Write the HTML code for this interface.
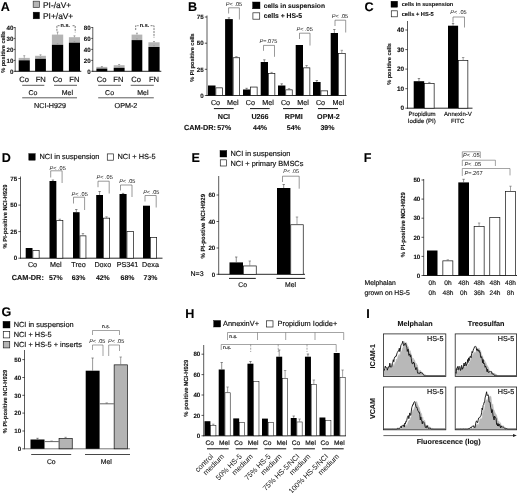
<!DOCTYPE html>
<html><head><meta charset="utf-8"><title>Figure</title>
<style>
html,body{margin:0;padding:0;background:#fff;}
body{width:520px;height:493px;overflow:hidden;}
svg{display:block;will-change:transform;filter:grayscale(1) blur(0.45px);font-family:"Liberation Sans",sans-serif;}
svg text{font-family:"Liberation Sans",sans-serif;text-rendering:geometricPrecision;}
</style></head><body>
<svg width="520" height="493" viewBox="0 0 520 493">
<rect width="520" height="493" fill="#fff"/>
<text x="0.80" y="10.91" text-anchor="start" style="font-size:12.6px;font-weight:bold;" fill="#000" stroke="#111" stroke-width="0.1">A</text>
<rect x="33.20" y="1.20" width="6.20" height="6.20" fill="#b4b4b4" stroke="#333" stroke-width="0.7"/>
<rect x="33.20" y="12.20" width="6.20" height="6.60" fill="#000" stroke="#000" stroke-width="0.5"/>
<text x="43.00" y="7.61" text-anchor="start" style="font-size:8.4px;" fill="#111" stroke="#111" stroke-width="0.17">PI-/aV+</text>
<text x="43.00" y="18.61" text-anchor="start" style="font-size:8.4px;" fill="#111" stroke="#111" stroke-width="0.17">PI+/aV+</text>
<text x="3.00" y="54.00" text-anchor="middle" style="font-size:5.6px;font-weight:bold;" fill="#111" stroke="#111" stroke-width="0.1" transform="rotate(-90 3.00 52.00)">% positive cells</text>
<line x1="15.20" y1="27.10" x2="15.20" y2="71.70" stroke="#000" stroke-width="0.65"/>
<line x1="13.60" y1="27.50" x2="15.20" y2="27.50" stroke="#000" stroke-width="0.65"/>
<text x="13.40" y="29.72" text-anchor="end" style="font-size:6.2px;font-weight:bold;" fill="#111" stroke="#111" stroke-width="0.1">40</text>
<line x1="13.60" y1="38.40" x2="15.20" y2="38.40" stroke="#000" stroke-width="0.65"/>
<text x="13.40" y="40.62" text-anchor="end" style="font-size:6.2px;font-weight:bold;" fill="#111" stroke="#111" stroke-width="0.1">30</text>
<line x1="13.60" y1="49.40" x2="15.20" y2="49.40" stroke="#000" stroke-width="0.65"/>
<text x="13.40" y="51.62" text-anchor="end" style="font-size:6.2px;font-weight:bold;" fill="#111" stroke="#111" stroke-width="0.1">20</text>
<line x1="13.60" y1="60.40" x2="15.20" y2="60.40" stroke="#000" stroke-width="0.65"/>
<text x="13.40" y="62.62" text-anchor="end" style="font-size:6.2px;font-weight:bold;" fill="#111" stroke="#111" stroke-width="0.1">10</text>
<line x1="13.60" y1="71.30" x2="15.20" y2="71.30" stroke="#000" stroke-width="0.65"/>
<text x="13.40" y="73.52" text-anchor="end" style="font-size:6.2px;font-weight:bold;" fill="#111" stroke="#111" stroke-width="0.1">0</text>
<line x1="14.80" y1="71.30" x2="81.30" y2="71.30" stroke="#111" stroke-width="0.9"/>
<rect x="18.70" y="57.90" width="11.10" height="2.40" fill="#b4b4b4"/>
<rect x="18.70" y="60.30" width="11.10" height="11.00" fill="#000"/>
<line x1="24.25" y1="55.70" x2="24.25" y2="57.90" stroke="#777" stroke-width="0.6"/>
<line x1="23.25" y1="55.70" x2="25.25" y2="55.70" stroke="#777" stroke-width="0.6"/>
<line x1="23.45" y1="59.10" x2="25.05" y2="59.10" stroke="#888" stroke-width="0.5"/>
<rect x="35.10" y="55.80" width="10.80" height="3.00" fill="#b4b4b4"/>
<rect x="35.10" y="58.80" width="10.80" height="12.50" fill="#000"/>
<line x1="40.50" y1="54.80" x2="40.50" y2="55.80" stroke="#777" stroke-width="0.6"/>
<line x1="39.50" y1="54.80" x2="41.50" y2="54.80" stroke="#777" stroke-width="0.6"/>
<line x1="39.70" y1="57.60" x2="41.30" y2="57.60" stroke="#888" stroke-width="0.5"/>
<rect x="51.90" y="34.60" width="11.30" height="10.20" fill="#b4b4b4"/>
<rect x="51.90" y="44.80" width="11.30" height="26.50" fill="#000"/>
<line x1="57.55" y1="32.00" x2="57.55" y2="34.60" stroke="#777" stroke-width="0.6"/>
<line x1="56.55" y1="32.00" x2="58.55" y2="32.00" stroke="#777" stroke-width="0.6"/>
<line x1="56.75" y1="43.60" x2="58.35" y2="43.60" stroke="#888" stroke-width="0.5"/>
<rect x="68.90" y="37.20" width="11.10" height="5.50" fill="#b4b4b4"/>
<rect x="68.90" y="42.70" width="11.10" height="28.60" fill="#000"/>
<line x1="74.45" y1="35.80" x2="74.45" y2="37.20" stroke="#777" stroke-width="0.6"/>
<line x1="73.45" y1="35.80" x2="75.45" y2="35.80" stroke="#777" stroke-width="0.6"/>
<line x1="73.65" y1="41.50" x2="75.25" y2="41.50" stroke="#888" stroke-width="0.5"/>
<g stroke="#444" stroke-width="0.7" fill="none"><path d="M56.9,30.8 V25.7 H59.6 M72.6,25.7 H75.2 V32.4" stroke-dasharray="2,0.9"/></g>
<text x="65.30" y="26.87" text-anchor="middle" style="font-size:5.5px;font-weight:bold;" fill="#222" stroke="#111" stroke-width="0.1">n.s.</text>
<text x="24.20" y="81.92" text-anchor="middle" style="font-size:7.6px;" fill="#111" stroke="#111" stroke-width="0.17">Co</text>
<text x="40.70" y="81.92" text-anchor="middle" style="font-size:7.6px;" fill="#111" stroke="#111" stroke-width="0.17">FN</text>
<text x="57.50" y="81.92" text-anchor="middle" style="font-size:7.6px;" fill="#111" stroke="#111" stroke-width="0.17">Co</text>
<text x="74.40" y="81.92" text-anchor="middle" style="font-size:7.6px;" fill="#111" stroke="#111" stroke-width="0.17">FN</text>
<line x1="22.20" y1="85.30" x2="44.30" y2="85.30" stroke="#333" stroke-width="0.8"/>
<line x1="54.00" y1="85.30" x2="77.00" y2="85.30" stroke="#333" stroke-width="0.8"/>
<text x="33.00" y="94.51" text-anchor="middle" style="font-size:7px;" fill="#111" stroke="#111" stroke-width="0.17">Co</text>
<text x="67.40" y="94.51" text-anchor="middle" style="font-size:7px;" fill="#111" stroke="#111" stroke-width="0.17">Mel</text>
<line x1="22.20" y1="97.80" x2="77.00" y2="97.80" stroke="#333" stroke-width="0.8"/>
<text x="50.00" y="107.58" text-anchor="middle" style="font-size:7.2px;" fill="#111" stroke="#111" stroke-width="0.17">NCI-H929</text>
<line x1="92.80" y1="27.10" x2="92.80" y2="71.70" stroke="#000" stroke-width="0.65"/>
<line x1="91.20" y1="27.50" x2="92.80" y2="27.50" stroke="#000" stroke-width="0.65"/>
<text x="90.60" y="29.72" text-anchor="end" style="font-size:6.2px;font-weight:bold;" fill="#111" stroke="#111" stroke-width="0.1">80</text>
<line x1="91.20" y1="38.40" x2="92.80" y2="38.40" stroke="#000" stroke-width="0.65"/>
<text x="90.60" y="40.62" text-anchor="end" style="font-size:6.2px;font-weight:bold;" fill="#111" stroke="#111" stroke-width="0.1">60</text>
<line x1="91.20" y1="49.40" x2="92.80" y2="49.40" stroke="#000" stroke-width="0.65"/>
<text x="90.60" y="51.62" text-anchor="end" style="font-size:6.2px;font-weight:bold;" fill="#111" stroke="#111" stroke-width="0.1">40</text>
<line x1="91.20" y1="60.40" x2="92.80" y2="60.40" stroke="#000" stroke-width="0.65"/>
<text x="90.60" y="62.62" text-anchor="end" style="font-size:6.2px;font-weight:bold;" fill="#111" stroke="#111" stroke-width="0.1">20</text>
<line x1="91.20" y1="71.30" x2="92.80" y2="71.30" stroke="#000" stroke-width="0.65"/>
<text x="90.60" y="73.52" text-anchor="end" style="font-size:6.2px;font-weight:bold;" fill="#111" stroke="#111" stroke-width="0.1">0</text>
<line x1="92.40" y1="71.30" x2="161.30" y2="71.30" stroke="#111" stroke-width="0.9"/>
<rect x="96.40" y="66.90" width="10.90" height="1.70" fill="#b4b4b4"/>
<rect x="96.40" y="68.60" width="10.90" height="2.70" fill="#000"/>
<line x1="101.85" y1="66.50" x2="101.85" y2="66.90" stroke="#777" stroke-width="0.6"/>
<line x1="100.85" y1="66.50" x2="102.85" y2="66.50" stroke="#777" stroke-width="0.6"/>
<line x1="101.05" y1="67.40" x2="102.65" y2="67.40" stroke="#888" stroke-width="0.5"/>
<rect x="113.70" y="65.20" width="10.90" height="2.60" fill="#b4b4b4"/>
<rect x="113.70" y="67.80" width="10.90" height="3.50" fill="#000"/>
<line x1="119.15" y1="64.50" x2="119.15" y2="65.20" stroke="#777" stroke-width="0.6"/>
<line x1="118.15" y1="64.50" x2="120.15" y2="64.50" stroke="#777" stroke-width="0.6"/>
<line x1="118.35" y1="66.60" x2="119.95" y2="66.60" stroke="#888" stroke-width="0.5"/>
<rect x="131.60" y="34.60" width="10.70" height="5.50" fill="#b4b4b4"/>
<rect x="131.60" y="40.10" width="10.70" height="31.20" fill="#000"/>
<line x1="136.95" y1="33.20" x2="136.95" y2="34.60" stroke="#777" stroke-width="0.6"/>
<line x1="135.95" y1="33.20" x2="137.95" y2="33.20" stroke="#777" stroke-width="0.6"/>
<line x1="136.15" y1="38.90" x2="137.75" y2="38.90" stroke="#888" stroke-width="0.5"/>
<rect x="148.40" y="42.30" width="11.20" height="4.70" fill="#b4b4b4"/>
<rect x="148.40" y="47.00" width="11.20" height="24.30" fill="#000"/>
<line x1="154.00" y1="41.50" x2="154.00" y2="42.30" stroke="#777" stroke-width="0.6"/>
<line x1="153.00" y1="41.50" x2="155.00" y2="41.50" stroke="#777" stroke-width="0.6"/>
<line x1="153.20" y1="45.80" x2="154.80" y2="45.80" stroke="#888" stroke-width="0.5"/>
<g stroke="#444" stroke-width="0.7" fill="none"><path d="M135.7,30 V25.7 H138.6 M150.6,25.7 H154 V37.6" stroke-dasharray="2,0.9"/></g>
<text x="144.50" y="26.87" text-anchor="middle" style="font-size:5.5px;font-weight:bold;" fill="#222" stroke="#111" stroke-width="0.1">n.s.</text>
<text x="101.60" y="81.92" text-anchor="middle" style="font-size:7.6px;" fill="#111" stroke="#111" stroke-width="0.17">Co</text>
<text x="118.40" y="81.92" text-anchor="middle" style="font-size:7.6px;" fill="#111" stroke="#111" stroke-width="0.17">FN</text>
<text x="136.20" y="81.92" text-anchor="middle" style="font-size:7.6px;" fill="#111" stroke="#111" stroke-width="0.17">Co</text>
<text x="154.00" y="81.92" text-anchor="middle" style="font-size:7.6px;" fill="#111" stroke="#111" stroke-width="0.17">FN</text>
<line x1="98.20" y1="85.30" x2="121.00" y2="85.30" stroke="#333" stroke-width="0.8"/>
<line x1="130.70" y1="85.30" x2="153.80" y2="85.30" stroke="#333" stroke-width="0.8"/>
<text x="109.60" y="94.51" text-anchor="middle" style="font-size:7px;" fill="#111" stroke="#111" stroke-width="0.17">Co</text>
<text x="142.80" y="94.51" text-anchor="middle" style="font-size:7px;" fill="#111" stroke="#111" stroke-width="0.17">Mel</text>
<line x1="98.20" y1="97.80" x2="153.80" y2="97.80" stroke="#333" stroke-width="0.8"/>
<text x="126.00" y="107.58" text-anchor="middle" style="font-size:7.2px;" fill="#111" stroke="#111" stroke-width="0.17">OPM-2</text>
<text x="188.00" y="10.91" text-anchor="start" style="font-size:12.6px;font-weight:bold;" fill="#000" stroke="#111" stroke-width="0.1">B</text>
<rect x="252.60" y="2.00" width="7.40" height="6.80" fill="#000" stroke="#000" stroke-width="0.4"/>
<rect x="252.90" y="12.80" width="6.80" height="6.40" fill="#fff" stroke="#222" stroke-width="0.7"/>
<text x="263.70" y="7.68" text-anchor="start" style="font-size:6.65px;font-weight:bold;" fill="#111" stroke="#111" stroke-width="0.1">cells in suspension</text>
<text x="263.70" y="18.43" text-anchor="start" style="font-size:6.8px;font-weight:bold;" fill="#111" stroke="#111" stroke-width="0.1">cells + HS-5</text>
<text x="192.00" y="59.50" text-anchor="middle" style="font-size:5.6px;font-weight:bold;" fill="#111" stroke="#111" stroke-width="0.1" transform="rotate(-90 192.00 57.50)">% PI positive cells</text>
<line x1="207.00" y1="15.50" x2="207.00" y2="95.90" stroke="#000" stroke-width="0.65"/>
<line x1="204.80" y1="17.00" x2="207.00" y2="17.00" stroke="#000" stroke-width="0.65"/>
<text x="203.60" y="19.22" text-anchor="end" style="font-size:6.2px;font-weight:bold;" fill="#111" stroke="#111" stroke-width="0.1">75</text>
<line x1="204.80" y1="43.20" x2="207.00" y2="43.20" stroke="#000" stroke-width="0.65"/>
<text x="203.60" y="45.42" text-anchor="end" style="font-size:6.2px;font-weight:bold;" fill="#111" stroke="#111" stroke-width="0.1">50</text>
<line x1="204.80" y1="69.30" x2="207.00" y2="69.30" stroke="#000" stroke-width="0.65"/>
<text x="203.60" y="71.52" text-anchor="end" style="font-size:6.2px;font-weight:bold;" fill="#111" stroke="#111" stroke-width="0.1">25</text>
<line x1="204.80" y1="95.50" x2="207.00" y2="95.50" stroke="#000" stroke-width="0.65"/>
<text x="203.60" y="97.72" text-anchor="end" style="font-size:6.2px;font-weight:bold;" fill="#111" stroke="#111" stroke-width="0.1">0</text>
<line x1="206.60" y1="95.50" x2="346.50" y2="95.50" stroke="#111" stroke-width="0.9"/>
<rect x="208.00" y="85.50" width="7.50" height="10.00" fill="#000"/>
<rect x="215.85" y="87.85" width="6.50" height="7.65" fill="#fff" stroke="#111" stroke-width="0.7"/>
<rect x="225.10" y="19.10" width="7.70" height="76.40" fill="#000"/>
<rect x="233.15" y="57.75" width="6.50" height="37.75" fill="#fff" stroke="#111" stroke-width="0.7"/>
<line x1="228.95" y1="17.80" x2="228.95" y2="19.10" stroke="#444" stroke-width="0.6"/>
<line x1="227.75" y1="17.80" x2="230.15" y2="17.80" stroke="#444" stroke-width="0.6"/>
<line x1="236.40" y1="56.60" x2="236.40" y2="57.40" stroke="#666" stroke-width="0.6"/>
<line x1="235.20" y1="56.60" x2="237.60" y2="56.60" stroke="#666" stroke-width="0.6"/>
<rect x="243.00" y="89.50" width="7.20" height="6.00" fill="#000"/>
<rect x="250.55" y="87.05" width="6.60" height="8.45" fill="#fff" stroke="#111" stroke-width="0.7"/>
<line x1="246.60" y1="88.30" x2="246.60" y2="89.50" stroke="#444" stroke-width="0.6"/>
<line x1="245.40" y1="88.30" x2="247.80" y2="88.30" stroke="#444" stroke-width="0.6"/>
<rect x="260.70" y="62.00" width="7.30" height="33.50" fill="#000"/>
<rect x="268.35" y="73.55" width="6.50" height="21.95" fill="#fff" stroke="#111" stroke-width="0.7"/>
<line x1="264.35" y1="59.80" x2="264.35" y2="62.00" stroke="#444" stroke-width="0.6"/>
<line x1="263.15" y1="59.80" x2="265.55" y2="59.80" stroke="#444" stroke-width="0.6"/>
<line x1="271.60" y1="72.40" x2="271.60" y2="73.20" stroke="#666" stroke-width="0.6"/>
<line x1="270.40" y1="72.40" x2="272.80" y2="72.40" stroke="#666" stroke-width="0.6"/>
<rect x="278.00" y="85.50" width="7.40" height="10.00" fill="#000"/>
<rect x="285.75" y="89.85" width="6.50" height="5.65" fill="#fff" stroke="#111" stroke-width="0.7"/>
<line x1="281.70" y1="83.80" x2="281.70" y2="85.50" stroke="#444" stroke-width="0.6"/>
<line x1="280.50" y1="83.80" x2="282.90" y2="83.80" stroke="#444" stroke-width="0.6"/>
<line x1="289.00" y1="88.60" x2="289.00" y2="89.50" stroke="#666" stroke-width="0.6"/>
<line x1="287.80" y1="88.60" x2="290.20" y2="88.60" stroke="#666" stroke-width="0.6"/>
<rect x="295.70" y="45.00" width="7.30" height="50.50" fill="#000"/>
<rect x="303.35" y="67.85" width="6.50" height="27.65" fill="#fff" stroke="#111" stroke-width="0.7"/>
<line x1="306.60" y1="65.50" x2="306.60" y2="67.50" stroke="#666" stroke-width="0.6"/>
<line x1="305.40" y1="65.50" x2="307.80" y2="65.50" stroke="#666" stroke-width="0.6"/>
<rect x="313.00" y="82.00" width="7.60" height="13.50" fill="#000"/>
<rect x="320.95" y="90.85" width="6.70" height="4.65" fill="#fff" stroke="#111" stroke-width="0.7"/>
<line x1="316.80" y1="80.50" x2="316.80" y2="82.00" stroke="#444" stroke-width="0.6"/>
<line x1="315.60" y1="80.50" x2="318.00" y2="80.50" stroke="#444" stroke-width="0.6"/>
<rect x="330.70" y="33.00" width="7.30" height="62.50" fill="#000"/>
<rect x="338.35" y="53.35" width="6.90" height="42.15" fill="#fff" stroke="#111" stroke-width="0.7"/>
<line x1="334.35" y1="29.50" x2="334.35" y2="33.00" stroke="#444" stroke-width="0.6"/>
<line x1="333.15" y1="29.50" x2="335.55" y2="29.50" stroke="#444" stroke-width="0.6"/>
<line x1="341.80" y1="50.30" x2="341.80" y2="53.00" stroke="#666" stroke-width="0.6"/>
<line x1="340.60" y1="50.30" x2="343.00" y2="50.30" stroke="#666" stroke-width="0.6"/>
<polyline points="228.60,13.50 228.60,7.80 239.40,7.80 239.40,19.50" fill="none" stroke="#555" stroke-width="0.6"/>
<text x="234.00" y="6.00" text-anchor="middle" style="font-size:5.6px" fill="#111"><tspan style="font-style:italic">P</tspan>&lt; .05</text>
<polyline points="263.50,50.80 263.50,45.40 274.50,45.40 274.50,56.80" fill="none" stroke="#555" stroke-width="0.6"/>
<text x="268.50" y="42.50" text-anchor="middle" style="font-size:5.6px" fill="#111"><tspan style="font-style:italic">P</tspan>=.075</text>
<polyline points="299.50,39.00 299.50,33.20 310.00,33.20 310.00,45.50" fill="none" stroke="#555" stroke-width="0.6"/>
<text x="304.60" y="31.20" text-anchor="middle" style="font-size:5.6px" fill="#111"><tspan style="font-style:italic">P</tspan>&lt; .05</text>
<polyline points="335.00,26.00 335.00,20.20 345.70,20.20 345.70,32.50" fill="none" stroke="#555" stroke-width="0.6"/>
<text x="340.00" y="18.00" text-anchor="middle" style="font-size:5.6px" fill="#111"><tspan style="font-style:italic">P</tspan>&lt; .05</text>
<text x="215.50" y="105.08" text-anchor="middle" style="font-size:7.2px;" fill="#111" stroke="#111" stroke-width="0.17">Co</text>
<text x="232.70" y="105.08" text-anchor="middle" style="font-size:7.2px;" fill="#111" stroke="#111" stroke-width="0.17">Mel</text>
<text x="250.30" y="105.08" text-anchor="middle" style="font-size:7.2px;" fill="#111" stroke="#111" stroke-width="0.17">Co</text>
<text x="268.00" y="105.08" text-anchor="middle" style="font-size:7.2px;" fill="#111" stroke="#111" stroke-width="0.17">Mel</text>
<text x="285.50" y="105.08" text-anchor="middle" style="font-size:7.2px;" fill="#111" stroke="#111" stroke-width="0.17">Co</text>
<text x="303.00" y="105.08" text-anchor="middle" style="font-size:7.2px;" fill="#111" stroke="#111" stroke-width="0.17">Mel</text>
<text x="320.50" y="105.08" text-anchor="middle" style="font-size:7.2px;" fill="#111" stroke="#111" stroke-width="0.17">Co</text>
<text x="338.30" y="105.08" text-anchor="middle" style="font-size:7.2px;" fill="#111" stroke="#111" stroke-width="0.17">Mel</text>
<line x1="213.90" y1="108.60" x2="233.70" y2="108.60" stroke="#111" stroke-width="1.0"/>
<line x1="250.00" y1="108.60" x2="269.70" y2="108.60" stroke="#111" stroke-width="1.0"/>
<line x1="283.00" y1="108.60" x2="303.00" y2="108.60" stroke="#111" stroke-width="1.0"/>
<line x1="318.00" y1="108.60" x2="338.00" y2="108.60" stroke="#111" stroke-width="1.0"/>
<text x="223.90" y="118.78" text-anchor="middle" style="font-size:7.2px;font-weight:bold;" fill="#111" stroke="#111" stroke-width="0.1">NCI</text>
<text x="260.00" y="118.78" text-anchor="middle" style="font-size:7.2px;font-weight:bold;" fill="#111" stroke="#111" stroke-width="0.1">U266</text>
<text x="293.80" y="118.78" text-anchor="middle" style="font-size:7.2px;font-weight:bold;" fill="#111" stroke="#111" stroke-width="0.1">RPMI</text>
<text x="328.50" y="118.78" text-anchor="middle" style="font-size:7.2px;font-weight:bold;" fill="#111" stroke="#111" stroke-width="0.1">OPM-2</text>
<text x="184.00" y="129.81" text-anchor="start" style="font-size:7.3px;font-weight:bold;" fill="#111" stroke="#111" stroke-width="0.1">CAM-DR:</text>
<text x="224.20" y="129.71" text-anchor="middle" style="font-size:7.0px;font-weight:bold;" fill="#111" stroke="#111" stroke-width="0.1">57%</text>
<text x="260.00" y="129.71" text-anchor="middle" style="font-size:7.0px;font-weight:bold;" fill="#111" stroke="#111" stroke-width="0.1">44%</text>
<text x="293.80" y="129.71" text-anchor="middle" style="font-size:7.0px;font-weight:bold;" fill="#111" stroke="#111" stroke-width="0.1">54%</text>
<text x="327.40" y="129.71" text-anchor="middle" style="font-size:7.0px;font-weight:bold;" fill="#111" stroke="#111" stroke-width="0.1">39%</text>
<text x="364.60" y="10.71" text-anchor="start" style="font-size:12.6px;font-weight:bold;" fill="#000" stroke="#111" stroke-width="0.1">C</text>
<rect x="391.00" y="1.20" width="6.60" height="6.00" fill="#000" stroke="#000" stroke-width="0.4"/>
<rect x="391.30" y="10.80" width="6.00" height="6.00" fill="#fff" stroke="#222" stroke-width="0.7"/>
<text x="401.70" y="6.20" text-anchor="start" style="font-size:5.6px;font-weight:bold;" fill="#111" stroke="#111" stroke-width="0.1">cells in suspension</text>
<text x="401.70" y="15.84" text-anchor="start" style="font-size:5.7px;font-weight:bold;" fill="#111" stroke="#111" stroke-width="0.1">cells + HS-5</text>
<text x="388.70" y="66.00" text-anchor="middle" style="font-size:5.6px;font-weight:bold;" fill="#111" stroke="#111" stroke-width="0.1" transform="rotate(-90 388.70 64.00)">% positive cells</text>
<line x1="407.50" y1="21.00" x2="407.50" y2="108.60" stroke="#000" stroke-width="0.65"/>
<line x1="405.30" y1="30.00" x2="407.50" y2="30.00" stroke="#000" stroke-width="0.65"/>
<text x="404.10" y="32.29" text-anchor="end" style="font-size:6.4px;font-weight:bold;" fill="#111" stroke="#111" stroke-width="0.1">40</text>
<line x1="405.30" y1="49.60" x2="407.50" y2="49.60" stroke="#000" stroke-width="0.65"/>
<text x="404.10" y="51.89" text-anchor="end" style="font-size:6.4px;font-weight:bold;" fill="#111" stroke="#111" stroke-width="0.1">30</text>
<line x1="405.30" y1="69.10" x2="407.50" y2="69.10" stroke="#000" stroke-width="0.65"/>
<text x="404.10" y="71.39" text-anchor="end" style="font-size:6.4px;font-weight:bold;" fill="#111" stroke="#111" stroke-width="0.1">20</text>
<line x1="405.30" y1="88.70" x2="407.50" y2="88.70" stroke="#000" stroke-width="0.65"/>
<text x="404.10" y="90.99" text-anchor="end" style="font-size:6.4px;font-weight:bold;" fill="#111" stroke="#111" stroke-width="0.1">10</text>
<line x1="405.30" y1="108.20" x2="407.50" y2="108.20" stroke="#000" stroke-width="0.65"/>
<text x="404.10" y="110.49" text-anchor="end" style="font-size:6.4px;font-weight:bold;" fill="#111" stroke="#111" stroke-width="0.1">0</text>
<line x1="407.10" y1="108.20" x2="472.50" y2="108.20" stroke="#111" stroke-width="0.9"/>
<rect x="413.70" y="81.20" width="10.50" height="27.00" fill="#000"/>
<rect x="424.55" y="83.55" width="9.60" height="24.65" fill="#fff" stroke="#111" stroke-width="0.7"/>
<line x1="418.95" y1="78.50" x2="418.95" y2="81.20" stroke="#444" stroke-width="0.6"/>
<line x1="417.75" y1="78.50" x2="420.15" y2="78.50" stroke="#444" stroke-width="0.6"/>
<line x1="429.35" y1="82.40" x2="429.35" y2="83.20" stroke="#666" stroke-width="0.6"/>
<line x1="428.15" y1="82.40" x2="430.55" y2="82.40" stroke="#666" stroke-width="0.6"/>
<rect x="448.00" y="25.70" width="10.10" height="82.50" fill="#000"/>
<rect x="458.45" y="60.35" width="9.40" height="47.85" fill="#fff" stroke="#111" stroke-width="0.7"/>
<line x1="453.05" y1="23.50" x2="453.05" y2="25.70" stroke="#444" stroke-width="0.6"/>
<line x1="451.85" y1="23.50" x2="454.25" y2="23.50" stroke="#444" stroke-width="0.6"/>
<line x1="463.15" y1="57.50" x2="463.15" y2="60.00" stroke="#666" stroke-width="0.6"/>
<line x1="461.95" y1="57.50" x2="464.35" y2="57.50" stroke="#666" stroke-width="0.6"/>
<polyline points="453.00,22.50 453.00,17.00 464.50,17.00 464.50,27.50" fill="none" stroke="#555" stroke-width="0.6"/>
<text x="458.50" y="14.00" text-anchor="middle" style="font-size:5.6px" fill="#111"><tspan style="font-style:italic">P</tspan>&lt; .05</text>
<text x="422.00" y="115.97" text-anchor="middle" style="font-size:6.05px;" fill="#111" stroke="#111" stroke-width="0.17">Propidium</text>
<text x="421.80" y="122.57" text-anchor="middle" style="font-size:6.05px;" fill="#111" stroke="#111" stroke-width="0.17">Iodide (PI)</text>
<text x="457.90" y="115.95" text-anchor="middle" style="font-size:6.0px;" fill="#111" stroke="#111" stroke-width="0.17">Annexin-V</text>
<text x="457.70" y="122.55" text-anchor="middle" style="font-size:6.0px;" fill="#111" stroke="#111" stroke-width="0.17">FITC</text>
<text x="1.80" y="162.01" text-anchor="start" style="font-size:12.6px;font-weight:bold;" fill="#000" stroke="#111" stroke-width="0.1">D</text>
<rect x="28.80" y="153.60" width="6.40" height="6.60" fill="#000" stroke="#000" stroke-width="0.4"/>
<text x="39.50" y="159.45" text-anchor="start" style="font-size:7.4px;" fill="#111" stroke="#111" stroke-width="0.17">NCI in suspension</text>
<rect x="107.30" y="153.90" width="6.30" height="6.30" fill="#fff" stroke="#222" stroke-width="0.7"/>
<text x="117.50" y="159.45" text-anchor="start" style="font-size:7.4px;" fill="#111" stroke="#111" stroke-width="0.17">NCI + HS-5</text>
<text x="4.60" y="218.59" text-anchor="middle" style="font-size:5.85px;font-weight:bold;" fill="#111" stroke="#111" stroke-width="0.1" transform="rotate(-90 4.60 216.50)">% PI-positive NCI-H929</text>
<line x1="20.50" y1="176.50" x2="20.50" y2="258.60" stroke="#000" stroke-width="0.65"/>
<line x1="18.30" y1="178.50" x2="20.50" y2="178.50" stroke="#000" stroke-width="0.65"/>
<text x="17.10" y="180.72" text-anchor="end" style="font-size:6.2px;font-weight:bold;" fill="#111" stroke="#111" stroke-width="0.1">75</text>
<line x1="18.30" y1="205.10" x2="20.50" y2="205.10" stroke="#000" stroke-width="0.65"/>
<text x="17.10" y="207.32" text-anchor="end" style="font-size:6.2px;font-weight:bold;" fill="#111" stroke="#111" stroke-width="0.1">50</text>
<line x1="18.30" y1="231.60" x2="20.50" y2="231.60" stroke="#000" stroke-width="0.65"/>
<text x="17.10" y="233.82" text-anchor="end" style="font-size:6.2px;font-weight:bold;" fill="#111" stroke="#111" stroke-width="0.1">25</text>
<line x1="18.30" y1="258.20" x2="20.50" y2="258.20" stroke="#000" stroke-width="0.65"/>
<text x="17.10" y="260.42" text-anchor="end" style="font-size:6.2px;font-weight:bold;" fill="#111" stroke="#111" stroke-width="0.1">0</text>
<line x1="20.10" y1="258.20" x2="162.50" y2="258.20" stroke="#111" stroke-width="0.9"/>
<rect x="25.70" y="248.00" width="6.80" height="10.20" fill="#000"/>
<rect x="32.85" y="250.35" width="6.30" height="7.85" fill="#fff" stroke="#111" stroke-width="0.7"/>
<rect x="49.50" y="181.00" width="6.80" height="77.20" fill="#000"/>
<rect x="56.65" y="220.35" width="6.20" height="37.85" fill="#fff" stroke="#111" stroke-width="0.7"/>
<line x1="52.90" y1="180.00" x2="52.90" y2="181.00" stroke="#444" stroke-width="0.6"/>
<line x1="51.70" y1="180.00" x2="54.10" y2="180.00" stroke="#444" stroke-width="0.6"/>
<line x1="59.75" y1="219.20" x2="59.75" y2="220.00" stroke="#666" stroke-width="0.6"/>
<line x1="58.55" y1="219.20" x2="60.95" y2="219.20" stroke="#666" stroke-width="0.6"/>
<rect x="73.00" y="212.20" width="6.60" height="46.00" fill="#000"/>
<rect x="79.95" y="235.85" width="6.00" height="22.35" fill="#fff" stroke="#111" stroke-width="0.7"/>
<line x1="76.30" y1="209.50" x2="76.30" y2="212.20" stroke="#444" stroke-width="0.6"/>
<line x1="75.10" y1="209.50" x2="77.50" y2="209.50" stroke="#444" stroke-width="0.6"/>
<line x1="82.95" y1="233.50" x2="82.95" y2="235.50" stroke="#666" stroke-width="0.6"/>
<line x1="81.75" y1="233.50" x2="84.15" y2="233.50" stroke="#666" stroke-width="0.6"/>
<rect x="96.20" y="195.00" width="6.80" height="63.20" fill="#000"/>
<rect x="103.35" y="218.15" width="6.30" height="40.05" fill="#fff" stroke="#111" stroke-width="0.7"/>
<line x1="99.60" y1="191.50" x2="99.60" y2="195.00" stroke="#444" stroke-width="0.6"/>
<line x1="98.40" y1="191.50" x2="100.80" y2="191.50" stroke="#444" stroke-width="0.6"/>
<line x1="106.50" y1="216.80" x2="106.50" y2="217.80" stroke="#666" stroke-width="0.6"/>
<line x1="105.30" y1="216.80" x2="107.70" y2="216.80" stroke="#666" stroke-width="0.6"/>
<rect x="119.50" y="194.00" width="7.10" height="64.20" fill="#000"/>
<rect x="126.95" y="231.55" width="6.40" height="26.65" fill="#fff" stroke="#111" stroke-width="0.7"/>
<line x1="123.05" y1="193.40" x2="123.05" y2="194.00" stroke="#444" stroke-width="0.6"/>
<line x1="121.85" y1="193.40" x2="124.25" y2="193.40" stroke="#444" stroke-width="0.6"/>
<rect x="143.00" y="205.70" width="7.00" height="52.50" fill="#000"/>
<rect x="150.35" y="237.35" width="6.30" height="20.85" fill="#fff" stroke="#111" stroke-width="0.7"/>
<polyline points="50.70,177.50 50.70,170.80 62.10,170.80 62.10,183.00" fill="none" stroke="#555" stroke-width="0.6"/>
<text x="57.60" y="169.50" text-anchor="middle" style="font-size:5.6px" fill="#111"><tspan style="font-style:italic">P</tspan>&lt; .05</text>
<polyline points="73.50,203.50 73.50,197.20 84.60,197.20 84.60,210.00" fill="none" stroke="#555" stroke-width="0.6"/>
<text x="79.60" y="195.50" text-anchor="middle" style="font-size:5.6px" fill="#111"><tspan style="font-style:italic">P</tspan>&lt; .05</text>
<polyline points="98.00,187.20 98.00,181.20 109.20,181.20 109.20,193.50" fill="none" stroke="#555" stroke-width="0.6"/>
<text x="104.60" y="179.40" text-anchor="middle" style="font-size:5.6px" fill="#111"><tspan style="font-style:italic">P</tspan>&lt; .05</text>
<polyline points="120.50,190.50 120.50,185.00 132.00,185.00 132.00,197.00" fill="none" stroke="#555" stroke-width="0.6"/>
<text x="127.30" y="183.20" text-anchor="middle" style="font-size:5.6px" fill="#111"><tspan style="font-style:italic">P</tspan>&lt; .05</text>
<polyline points="145.00,201.50 145.00,195.50 156.20,195.50 156.20,207.50" fill="none" stroke="#555" stroke-width="0.6"/>
<text x="151.30" y="193.60" text-anchor="middle" style="font-size:5.6px" fill="#111"><tspan style="font-style:italic">P</tspan>&lt; .05</text>
<text x="32.50" y="267.38" text-anchor="middle" style="font-size:7.2px;" fill="#111" stroke="#111" stroke-width="0.17">Co</text>
<text x="55.80" y="267.38" text-anchor="middle" style="font-size:7.2px;" fill="#111" stroke="#111" stroke-width="0.17">Mel</text>
<text x="78.60" y="267.38" text-anchor="middle" style="font-size:7.2px;" fill="#111" stroke="#111" stroke-width="0.17">Treo</text>
<text x="102.80" y="267.38" text-anchor="middle" style="font-size:7.2px;" fill="#111" stroke="#111" stroke-width="0.17">Doxo</text>
<text x="127.50" y="267.38" text-anchor="middle" style="font-size:7.2px;" fill="#111" stroke="#111" stroke-width="0.17">PS341</text>
<text x="150.50" y="267.38" text-anchor="middle" style="font-size:7.2px;" fill="#111" stroke="#111" stroke-width="0.17">Dexa</text>
<text x="11.80" y="279.71" text-anchor="start" style="font-size:7.3px;font-weight:bold;" fill="#111" stroke="#111" stroke-width="0.1">CAM-DR:</text>
<text x="55.80" y="279.57" text-anchor="middle" style="font-size:6.9px;font-weight:bold;" fill="#111" stroke="#111" stroke-width="0.1">57%</text>
<text x="78.60" y="279.57" text-anchor="middle" style="font-size:6.9px;font-weight:bold;" fill="#111" stroke="#111" stroke-width="0.1">63%</text>
<text x="102.80" y="279.57" text-anchor="middle" style="font-size:6.9px;font-weight:bold;" fill="#111" stroke="#111" stroke-width="0.1">42%</text>
<text x="127.50" y="279.57" text-anchor="middle" style="font-size:6.9px;font-weight:bold;" fill="#111" stroke="#111" stroke-width="0.1">68%</text>
<text x="150.50" y="279.57" text-anchor="middle" style="font-size:6.9px;font-weight:bold;" fill="#111" stroke="#111" stroke-width="0.1">73%</text>
<text x="191.60" y="162.11" text-anchor="start" style="font-size:12.6px;font-weight:bold;" fill="#000" stroke="#111" stroke-width="0.1">E</text>
<rect x="220.00" y="150.50" width="6.80" height="6.50" fill="#000" stroke="#000" stroke-width="0.4"/>
<rect x="220.30" y="159.80" width="6.20" height="6.20" fill="#fff" stroke="#222" stroke-width="0.7"/>
<text x="230.50" y="156.45" text-anchor="start" style="font-size:7.4px;" fill="#111" stroke="#111" stroke-width="0.17">NCI in suspension</text>
<text x="230.50" y="165.75" text-anchor="start" style="font-size:7.4px;" fill="#111" stroke="#111" stroke-width="0.17">NCI + primary BMSCs</text>
<text x="203.30" y="228.37" text-anchor="middle" style="font-size:6.05px;font-weight:bold;" fill="#111" stroke="#111" stroke-width="0.1" transform="rotate(-90 203.30 226.20)">% PI-postive NCI-H929</text>
<line x1="218.70" y1="176.00" x2="218.70" y2="274.70" stroke="#000" stroke-width="0.65"/>
<line x1="216.50" y1="195.00" x2="218.70" y2="195.00" stroke="#000" stroke-width="0.65"/>
<text x="215.30" y="197.22" text-anchor="end" style="font-size:6.2px;font-weight:bold;" fill="#111" stroke="#111" stroke-width="0.1">60</text>
<line x1="216.50" y1="221.50" x2="218.70" y2="221.50" stroke="#000" stroke-width="0.65"/>
<text x="215.30" y="223.72" text-anchor="end" style="font-size:6.2px;font-weight:bold;" fill="#111" stroke="#111" stroke-width="0.1">40</text>
<line x1="216.50" y1="248.00" x2="218.70" y2="248.00" stroke="#000" stroke-width="0.65"/>
<text x="215.30" y="250.22" text-anchor="end" style="font-size:6.2px;font-weight:bold;" fill="#111" stroke="#111" stroke-width="0.1">20</text>
<line x1="216.50" y1="274.30" x2="218.70" y2="274.30" stroke="#000" stroke-width="0.65"/>
<text x="215.30" y="276.52" text-anchor="end" style="font-size:6.2px;font-weight:bold;" fill="#111" stroke="#111" stroke-width="0.1">0</text>
<line x1="218.30" y1="274.30" x2="305.00" y2="274.30" stroke="#111" stroke-width="0.9"/>
<rect x="229.50" y="262.40" width="13.50" height="11.90" fill="#000"/>
<rect x="243.35" y="265.95" width="12.90" height="8.35" fill="#fff" stroke="#111" stroke-width="0.7"/>
<line x1="236.25" y1="257.00" x2="236.25" y2="262.40" stroke="#444" stroke-width="0.6"/>
<line x1="235.05" y1="257.00" x2="237.45" y2="257.00" stroke="#444" stroke-width="0.6"/>
<line x1="249.80" y1="261.00" x2="249.80" y2="265.60" stroke="#666" stroke-width="0.6"/>
<line x1="248.60" y1="261.00" x2="251.00" y2="261.00" stroke="#666" stroke-width="0.6"/>
<rect x="277.00" y="188.00" width="13.40" height="86.30" fill="#000"/>
<rect x="290.75" y="224.75" width="12.50" height="49.55" fill="#fff" stroke="#111" stroke-width="0.7"/>
<line x1="283.70" y1="184.50" x2="283.70" y2="188.00" stroke="#444" stroke-width="0.6"/>
<line x1="282.50" y1="184.50" x2="284.90" y2="184.50" stroke="#444" stroke-width="0.6"/>
<line x1="297.00" y1="217.00" x2="297.00" y2="224.40" stroke="#666" stroke-width="0.6"/>
<line x1="295.80" y1="217.00" x2="298.20" y2="217.00" stroke="#666" stroke-width="0.6"/>
<polyline points="282.50,182.00 282.50,176.20 299.20,176.20 299.20,188.70" fill="none" stroke="#555" stroke-width="0.6"/>
<text x="291.20" y="173.43" text-anchor="middle" style="font-size:5.4px" fill="#111"><tspan style="font-style:italic">P</tspan>&lt; .05</text>
<text x="190.50" y="276.31" text-anchor="start" style="font-size:7px;" fill="#111" stroke="#111" stroke-width="0.17">N=3</text>
<line x1="229.00" y1="278.40" x2="255.80" y2="278.40" stroke="#000" stroke-width="0.9"/>
<line x1="276.50" y1="278.40" x2="305.20" y2="278.40" stroke="#000" stroke-width="0.9"/>
<text x="242.70" y="287.03" text-anchor="middle" style="font-size:6.8px;" fill="#111" stroke="#111" stroke-width="0.17">Co</text>
<text x="290.50" y="287.03" text-anchor="middle" style="font-size:6.8px;" fill="#111" stroke="#111" stroke-width="0.17">Mel</text>
<text x="363.80" y="161.91" text-anchor="start" style="font-size:12.6px;font-weight:bold;" fill="#000" stroke="#111" stroke-width="0.1">F</text>
<text x="403.20" y="226.83" text-anchor="middle" style="font-size:5.95px;font-weight:bold;" fill="#111" stroke="#111" stroke-width="0.1" transform="rotate(-90 403.20 224.70)">% PI-positive NCI-H929</text>
<line x1="423.70" y1="179.00" x2="423.70" y2="275.90" stroke="#000" stroke-width="0.65"/>
<line x1="421.50" y1="180.00" x2="423.70" y2="180.00" stroke="#000" stroke-width="0.65"/>
<text x="420.30" y="182.22" text-anchor="end" style="font-size:6.2px;font-weight:bold;" fill="#111" stroke="#111" stroke-width="0.1">50</text>
<line x1="421.50" y1="199.10" x2="423.70" y2="199.10" stroke="#000" stroke-width="0.65"/>
<text x="420.30" y="201.32" text-anchor="end" style="font-size:6.2px;font-weight:bold;" fill="#111" stroke="#111" stroke-width="0.1">40</text>
<line x1="421.50" y1="218.20" x2="423.70" y2="218.20" stroke="#000" stroke-width="0.65"/>
<text x="420.30" y="220.42" text-anchor="end" style="font-size:6.2px;font-weight:bold;" fill="#111" stroke="#111" stroke-width="0.1">30</text>
<line x1="421.50" y1="237.30" x2="423.70" y2="237.30" stroke="#000" stroke-width="0.65"/>
<text x="420.30" y="239.52" text-anchor="end" style="font-size:6.2px;font-weight:bold;" fill="#111" stroke="#111" stroke-width="0.1">20</text>
<line x1="421.50" y1="256.40" x2="423.70" y2="256.40" stroke="#000" stroke-width="0.65"/>
<text x="420.30" y="258.62" text-anchor="end" style="font-size:6.2px;font-weight:bold;" fill="#111" stroke="#111" stroke-width="0.1">10</text>
<line x1="421.50" y1="275.50" x2="423.70" y2="275.50" stroke="#000" stroke-width="0.65"/>
<text x="420.30" y="277.72" text-anchor="end" style="font-size:6.2px;font-weight:bold;" fill="#111" stroke="#111" stroke-width="0.1">0</text>
<line x1="423.30" y1="275.50" x2="517.00" y2="275.50" stroke="#111" stroke-width="0.9"/>
<rect x="427.00" y="250.50" width="10.50" height="25.00" fill="#000"/>
<rect x="442.85" y="260.85" width="10.00" height="14.65" fill="#fff" stroke="#111" stroke-width="0.7"/>
<line x1="447.80" y1="259.80" x2="447.80" y2="260.50" stroke="#666" stroke-width="0.6"/>
<line x1="446.60" y1="259.80" x2="449.00" y2="259.80" stroke="#666" stroke-width="0.6"/>
<rect x="458.30" y="182.40" width="10.70" height="93.10" fill="#000"/>
<line x1="463.60" y1="179.30" x2="463.60" y2="182.40" stroke="#444" stroke-width="0.6"/>
<line x1="462.40" y1="179.30" x2="464.80" y2="179.30" stroke="#444" stroke-width="0.6"/>
<rect x="474.15" y="226.55" width="10.00" height="48.95" fill="#fff" stroke="#111" stroke-width="0.7"/>
<line x1="479.10" y1="223.00" x2="479.10" y2="226.20" stroke="#666" stroke-width="0.6"/>
<line x1="477.90" y1="223.00" x2="480.30" y2="223.00" stroke="#666" stroke-width="0.6"/>
<rect x="489.75" y="217.35" width="10.10" height="58.15" fill="#fff" stroke="#111" stroke-width="0.7"/>
<rect x="505.55" y="191.55" width="10.00" height="83.95" fill="#fff" stroke="#111" stroke-width="0.7"/>
<line x1="510.50" y1="186.20" x2="510.50" y2="191.20" stroke="#666" stroke-width="0.6"/>
<line x1="509.30" y1="186.20" x2="511.70" y2="186.20" stroke="#666" stroke-width="0.6"/>
<polyline points="462.30,158.00 462.30,151.80 480.30,151.80 480.30,158.00" fill="none" stroke="#666" stroke-width="0.6"/>
<text x="471.40" y="157.04" text-anchor="middle" style="font-size:5.7px" fill="#111"><tspan style="font-style:italic">P</tspan>&lt; .05</text>
<polyline points="462.30,166.00 462.30,160.20 495.40,160.20 495.40,166.00" fill="none" stroke="#666" stroke-width="0.6"/>
<text x="472.80" y="165.64" text-anchor="middle" style="font-size:5.7px" fill="#111"><tspan style="font-style:italic">P</tspan>&lt; .05</text>
<polyline points="462.30,176.00 462.30,168.50 510.00,168.50 510.00,175.40" fill="none" stroke="#666" stroke-width="0.6"/>
<text x="473.50" y="174.64" text-anchor="middle" style="font-size:5.7px" fill="#111"><tspan style="font-style:italic">P</tspan>=.267</text>
<text x="364.50" y="285.43" text-anchor="start" style="font-size:6.8px;" fill="#111" stroke="#111" stroke-width="0.17">Melphalan</text>
<text x="364.50" y="294.93" text-anchor="start" style="font-size:6.8px;" fill="#111" stroke="#111" stroke-width="0.17">grown on HS-5</text>
<text x="432.20" y="285.36" text-anchor="middle" style="font-size:6.6px;" fill="#111" stroke="#111" stroke-width="0.17">0h</text>
<text x="432.20" y="294.86" text-anchor="middle" style="font-size:6.6px;" fill="#111" stroke="#111" stroke-width="0.17">0h</text>
<text x="448.00" y="285.36" text-anchor="middle" style="font-size:6.6px;" fill="#111" stroke="#111" stroke-width="0.17">0h</text>
<text x="448.00" y="294.86" text-anchor="middle" style="font-size:6.6px;" fill="#111" stroke="#111" stroke-width="0.17">48h</text>
<text x="463.70" y="285.36" text-anchor="middle" style="font-size:6.6px;" fill="#111" stroke="#111" stroke-width="0.17">48h</text>
<text x="463.70" y="294.86" text-anchor="middle" style="font-size:6.6px;" fill="#111" stroke="#111" stroke-width="0.17">0h</text>
<text x="479.20" y="285.36" text-anchor="middle" style="font-size:6.6px;" fill="#111" stroke="#111" stroke-width="0.17">48h</text>
<text x="479.20" y="294.86" text-anchor="middle" style="font-size:6.6px;" fill="#111" stroke="#111" stroke-width="0.17">36h</text>
<text x="495.00" y="285.36" text-anchor="middle" style="font-size:6.6px;" fill="#111" stroke="#111" stroke-width="0.17">48h</text>
<text x="495.00" y="294.86" text-anchor="middle" style="font-size:6.6px;" fill="#111" stroke="#111" stroke-width="0.17">24h</text>
<text x="510.50" y="285.36" text-anchor="middle" style="font-size:6.6px;" fill="#111" stroke="#111" stroke-width="0.17">48h</text>
<text x="510.50" y="294.86" text-anchor="middle" style="font-size:6.6px;" fill="#111" stroke="#111" stroke-width="0.17">8h</text>
<text x="1.40" y="315.91" text-anchor="start" style="font-size:12.6px;font-weight:bold;" fill="#000" stroke="#111" stroke-width="0.1">G</text>
<rect x="3.00" y="321.30" width="7.00" height="6.70" fill="#000" stroke="#000" stroke-width="0.4"/>
<rect x="3.30" y="331.50" width="6.40" height="6.40" fill="#fff" stroke="#222" stroke-width="0.7"/>
<rect x="3.30" y="341.50" width="6.40" height="6.40" fill="#b4b4b4" stroke="#222" stroke-width="0.7"/>
<text x="13.70" y="327.25" text-anchor="start" style="font-size:7.4px;" fill="#111" stroke="#111" stroke-width="0.17">NCI in suspension</text>
<text x="13.70" y="337.25" text-anchor="start" style="font-size:7.4px;" fill="#111" stroke="#111" stroke-width="0.17">NCI + HS-5</text>
<text x="13.70" y="347.25" text-anchor="start" style="font-size:7.4px;" fill="#111" stroke="#111" stroke-width="0.17">NCI + HS-5 + inserts</text>
<text x="4.80" y="403.68" text-anchor="middle" style="font-size:5.8px;font-weight:bold;" fill="#111" stroke="#111" stroke-width="0.1" transform="rotate(-90 4.80 401.60)">% PI-positive NCI-H929</text>
<line x1="24.50" y1="350.00" x2="24.50" y2="449.20" stroke="#000" stroke-width="0.65"/>
<line x1="22.30" y1="359.60" x2="24.50" y2="359.60" stroke="#000" stroke-width="0.65"/>
<text x="21.10" y="361.82" text-anchor="end" style="font-size:6.2px;font-weight:bold;" fill="#111" stroke="#111" stroke-width="0.1">50</text>
<line x1="22.30" y1="377.50" x2="24.50" y2="377.50" stroke="#000" stroke-width="0.65"/>
<text x="21.10" y="379.72" text-anchor="end" style="font-size:6.2px;font-weight:bold;" fill="#111" stroke="#111" stroke-width="0.1">40</text>
<line x1="22.30" y1="395.30" x2="24.50" y2="395.30" stroke="#000" stroke-width="0.65"/>
<text x="21.10" y="397.52" text-anchor="end" style="font-size:6.2px;font-weight:bold;" fill="#111" stroke="#111" stroke-width="0.1">30</text>
<line x1="22.30" y1="413.10" x2="24.50" y2="413.10" stroke="#000" stroke-width="0.65"/>
<text x="21.10" y="415.32" text-anchor="end" style="font-size:6.2px;font-weight:bold;" fill="#111" stroke="#111" stroke-width="0.1">20</text>
<line x1="22.30" y1="431.00" x2="24.50" y2="431.00" stroke="#000" stroke-width="0.65"/>
<text x="21.10" y="433.22" text-anchor="end" style="font-size:6.2px;font-weight:bold;" fill="#111" stroke="#111" stroke-width="0.1">10</text>
<line x1="22.30" y1="448.80" x2="24.50" y2="448.80" stroke="#000" stroke-width="0.65"/>
<text x="21.10" y="451.02" text-anchor="end" style="font-size:6.2px;font-weight:bold;" fill="#111" stroke="#111" stroke-width="0.1">0</text>
<line x1="24.10" y1="448.80" x2="130.00" y2="448.80" stroke="#555" stroke-width="0.8"/>
<rect x="30.50" y="439.50" width="14.00" height="9.30" fill="#000"/>
<line x1="37.50" y1="438.30" x2="37.50" y2="439.50" stroke="#444" stroke-width="0.6"/>
<line x1="36.30" y1="438.30" x2="38.70" y2="438.30" stroke="#444" stroke-width="0.6"/>
<line x1="44.50" y1="441.60" x2="58.70" y2="441.60" stroke="#555" stroke-width="0.9"/>
<line x1="51.60" y1="441.00" x2="51.60" y2="441.50" stroke="#666" stroke-width="0.6"/>
<line x1="50.40" y1="441.00" x2="52.80" y2="441.00" stroke="#666" stroke-width="0.6"/>
<rect x="59.05" y="438.55" width="13.20" height="10.25" fill="#b4b4b4" stroke="#111" stroke-width="0.7"/>
<line x1="65.60" y1="437.30" x2="65.60" y2="438.20" stroke="#666" stroke-width="0.6"/>
<line x1="64.40" y1="437.30" x2="66.80" y2="437.30" stroke="#666" stroke-width="0.6"/>
<rect x="85.70" y="370.70" width="13.90" height="78.10" fill="#000"/>
<line x1="92.60" y1="358.00" x2="92.60" y2="370.70" stroke="#555" stroke-width="0.6"/>
<line x1="91.40" y1="358.00" x2="93.80" y2="358.00" stroke="#555" stroke-width="0.6"/>
<line x1="99.60" y1="403.80" x2="113.80" y2="403.80" stroke="#555" stroke-width="0.9"/>
<line x1="106.70" y1="402.90" x2="106.70" y2="403.70" stroke="#666" stroke-width="0.6"/>
<line x1="105.50" y1="402.90" x2="107.90" y2="402.90" stroke="#666" stroke-width="0.6"/>
<rect x="114.15" y="364.85" width="13.20" height="83.95" fill="#b4b4b4" stroke="#111" stroke-width="0.7"/>
<line x1="120.70" y1="357.00" x2="120.70" y2="364.50" stroke="#666" stroke-width="0.6"/>
<line x1="119.50" y1="357.00" x2="121.90" y2="357.00" stroke="#666" stroke-width="0.6"/>
<polyline points="92.50,335.00 92.50,330.50 119.50,330.50 119.50,335.00" fill="none" stroke="#666" stroke-width="0.6"/>
<text x="106.00" y="327.79" text-anchor="middle" style="font-size:5px;" fill="#333" stroke="#111" stroke-width="0.17">n.s.</text>
<polyline points="92.50,350.00 92.50,345.00 103.00,345.00 103.00,356.00" fill="none" stroke="#666" stroke-width="0.6"/>
<text x="97.30" y="342.70" text-anchor="middle" style="font-size:5.6px" fill="#111"><tspan style="font-style:italic">P</tspan>&lt; .05</text>
<polyline points="108.70,356.00 108.70,345.00 119.50,345.00 119.50,351.00" fill="none" stroke="#666" stroke-width="0.6"/>
<text x="116.20" y="342.70" text-anchor="middle" style="font-size:5.6px" fill="#111"><tspan style="font-style:italic">P</tspan>&lt; .05</text>
<line x1="31.20" y1="454.50" x2="71.20" y2="454.50" stroke="#333" stroke-width="0.9"/>
<line x1="85.00" y1="454.50" x2="130.00" y2="454.50" stroke="#333" stroke-width="0.9"/>
<text x="51.30" y="464.43" text-anchor="middle" style="font-size:6.8px;" fill="#111" stroke="#111" stroke-width="0.17">Co</text>
<text x="106.30" y="464.43" text-anchor="middle" style="font-size:6.8px;" fill="#111" stroke="#111" stroke-width="0.17">Mel</text>
<text x="185.20" y="317.51" text-anchor="start" style="font-size:12.6px;font-weight:bold;" fill="#000" stroke="#111" stroke-width="0.1">H</text>
<rect x="213.70" y="320.50" width="7.00" height="6.50" fill="#000" stroke="#000" stroke-width="0.4"/>
<text x="223.00" y="326.45" text-anchor="start" style="font-size:7.4px;" fill="#111" stroke="#111" stroke-width="0.17">AnnexinV+</text>
<rect x="266.50" y="320.80" width="6.50" height="6.20" fill="#fff" stroke="#222" stroke-width="0.7"/>
<text x="277.50" y="326.45" text-anchor="start" style="font-size:7.4px;" fill="#111" stroke="#111" stroke-width="0.17">Propidium Iodide+</text>
<text x="186.20" y="390.31" text-anchor="middle" style="font-size:5.9px;font-weight:bold;" fill="#111" stroke="#111" stroke-width="0.1" transform="rotate(-90 186.20 388.20)">% positive NCI-H929</text>
<line x1="203.70" y1="345.00" x2="203.70" y2="436.20" stroke="#000" stroke-width="0.65"/>
<line x1="201.50" y1="354.20" x2="203.70" y2="354.20" stroke="#000" stroke-width="0.65"/>
<text x="200.30" y="356.42" text-anchor="end" style="font-size:6.2px;font-weight:bold;" fill="#111" stroke="#111" stroke-width="0.1">80</text>
<line x1="201.50" y1="374.60" x2="203.70" y2="374.60" stroke="#000" stroke-width="0.65"/>
<text x="200.30" y="376.82" text-anchor="end" style="font-size:6.2px;font-weight:bold;" fill="#111" stroke="#111" stroke-width="0.1">60</text>
<line x1="201.50" y1="395.00" x2="203.70" y2="395.00" stroke="#000" stroke-width="0.65"/>
<text x="200.30" y="397.22" text-anchor="end" style="font-size:6.2px;font-weight:bold;" fill="#111" stroke="#111" stroke-width="0.1">40</text>
<line x1="201.50" y1="415.40" x2="203.70" y2="415.40" stroke="#000" stroke-width="0.65"/>
<text x="200.30" y="417.62" text-anchor="end" style="font-size:6.2px;font-weight:bold;" fill="#111" stroke="#111" stroke-width="0.1">20</text>
<line x1="201.50" y1="435.80" x2="203.70" y2="435.80" stroke="#000" stroke-width="0.65"/>
<text x="200.30" y="438.02" text-anchor="end" style="font-size:6.2px;font-weight:bold;" fill="#111" stroke="#111" stroke-width="0.1">0</text>
<line x1="203.30" y1="435.80" x2="346.00" y2="435.80" stroke="#111" stroke-width="0.9"/>
<rect x="204.50" y="421.20" width="5.90" height="14.60" fill="#000"/>
<rect x="210.68" y="425.27" width="5.25" height="10.53" fill="#fff" stroke="#111" stroke-width="0.55"/>
<line x1="213.30" y1="424.20" x2="213.30" y2="425.00" stroke="#666" stroke-width="0.6"/>
<line x1="212.10" y1="424.20" x2="214.50" y2="424.20" stroke="#666" stroke-width="0.6"/>
<rect x="218.70" y="369.50" width="6.00" height="66.30" fill="#000"/>
<rect x="224.97" y="392.77" width="5.25" height="43.03" fill="#fff" stroke="#111" stroke-width="0.55"/>
<line x1="221.70" y1="362.50" x2="221.70" y2="369.50" stroke="#444" stroke-width="0.6"/>
<line x1="220.50" y1="362.50" x2="222.90" y2="362.50" stroke="#444" stroke-width="0.6"/>
<line x1="227.60" y1="387.00" x2="227.60" y2="392.50" stroke="#666" stroke-width="0.6"/>
<line x1="226.40" y1="387.00" x2="228.80" y2="387.00" stroke="#666" stroke-width="0.6"/>
<text x="209.70" y="444.86" text-anchor="middle" style="font-size:6.6px;" fill="#111" stroke="#111" stroke-width="0.17">Co</text>
<text x="224.30" y="444.86" text-anchor="middle" style="font-size:6.6px;" fill="#111" stroke="#111" stroke-width="0.17">Mel</text>
<line x1="207.00" y1="448.80" x2="228.70" y2="448.80" stroke="#111" stroke-width="1.0"/>
<rect x="233.25" y="418.40" width="5.90" height="17.40" fill="#000"/>
<rect x="239.43" y="422.27" width="5.25" height="13.53" fill="#fff" stroke="#111" stroke-width="0.55"/>
<rect x="247.45" y="363.70" width="6.00" height="72.10" fill="#000"/>
<rect x="253.72" y="381.47" width="5.25" height="54.33" fill="#fff" stroke="#111" stroke-width="0.55"/>
<line x1="250.45" y1="361.50" x2="250.45" y2="363.70" stroke="#444" stroke-width="0.6"/>
<line x1="249.25" y1="361.50" x2="251.65" y2="361.50" stroke="#444" stroke-width="0.6"/>
<text x="238.45" y="444.86" text-anchor="middle" style="font-size:6.6px;" fill="#111" stroke="#111" stroke-width="0.17">Co</text>
<text x="253.05" y="444.86" text-anchor="middle" style="font-size:6.6px;" fill="#111" stroke="#111" stroke-width="0.17">Mel</text>
<line x1="235.75" y1="448.80" x2="257.45" y2="448.80" stroke="#111" stroke-width="1.0"/>
<rect x="262.00" y="418.60" width="5.90" height="17.20" fill="#000"/>
<rect x="268.17" y="422.27" width="5.25" height="13.53" fill="#fff" stroke="#111" stroke-width="0.55"/>
<rect x="276.20" y="356.70" width="6.00" height="79.10" fill="#000"/>
<rect x="282.47" y="378.27" width="5.25" height="57.53" fill="#fff" stroke="#111" stroke-width="0.55"/>
<line x1="279.20" y1="350.00" x2="279.20" y2="356.70" stroke="#444" stroke-width="0.6"/>
<line x1="278.00" y1="350.00" x2="280.40" y2="350.00" stroke="#444" stroke-width="0.6"/>
<line x1="285.10" y1="370.50" x2="285.10" y2="378.00" stroke="#666" stroke-width="0.6"/>
<line x1="283.90" y1="370.50" x2="286.30" y2="370.50" stroke="#666" stroke-width="0.6"/>
<text x="267.20" y="444.86" text-anchor="middle" style="font-size:6.6px;" fill="#111" stroke="#111" stroke-width="0.17">Co</text>
<text x="281.80" y="444.86" text-anchor="middle" style="font-size:6.6px;" fill="#111" stroke="#111" stroke-width="0.17">Mel</text>
<line x1="264.50" y1="448.80" x2="286.20" y2="448.80" stroke="#111" stroke-width="1.0"/>
<rect x="290.75" y="418.00" width="5.90" height="17.80" fill="#000"/>
<rect x="296.92" y="421.97" width="5.25" height="13.83" fill="#fff" stroke="#111" stroke-width="0.55"/>
<line x1="293.70" y1="416.00" x2="293.70" y2="418.00" stroke="#444" stroke-width="0.6"/>
<line x1="292.50" y1="416.00" x2="294.90" y2="416.00" stroke="#444" stroke-width="0.6"/>
<line x1="299.55" y1="419.00" x2="299.55" y2="421.70" stroke="#666" stroke-width="0.6"/>
<line x1="298.35" y1="419.00" x2="300.75" y2="419.00" stroke="#666" stroke-width="0.6"/>
<rect x="304.95" y="356.70" width="6.00" height="79.10" fill="#000"/>
<rect x="311.22" y="384.47" width="5.25" height="51.33" fill="#fff" stroke="#111" stroke-width="0.55"/>
<line x1="307.95" y1="354.00" x2="307.95" y2="356.70" stroke="#444" stroke-width="0.6"/>
<line x1="306.75" y1="354.00" x2="309.15" y2="354.00" stroke="#444" stroke-width="0.6"/>
<line x1="313.85" y1="380.00" x2="313.85" y2="384.20" stroke="#666" stroke-width="0.6"/>
<line x1="312.65" y1="380.00" x2="315.05" y2="380.00" stroke="#666" stroke-width="0.6"/>
<text x="295.95" y="444.86" text-anchor="middle" style="font-size:6.6px;" fill="#111" stroke="#111" stroke-width="0.17">Co</text>
<text x="310.55" y="444.86" text-anchor="middle" style="font-size:6.6px;" fill="#111" stroke="#111" stroke-width="0.17">Mel</text>
<line x1="293.25" y1="448.80" x2="314.95" y2="448.80" stroke="#111" stroke-width="1.0"/>
<rect x="319.50" y="417.50" width="5.90" height="18.30" fill="#000"/>
<rect x="325.67" y="420.27" width="5.25" height="15.53" fill="#fff" stroke="#111" stroke-width="0.55"/>
<rect x="333.70" y="353.00" width="6.00" height="82.80" fill="#000"/>
<rect x="339.97" y="377.27" width="5.25" height="58.53" fill="#fff" stroke="#111" stroke-width="0.55"/>
<line x1="342.60" y1="370.00" x2="342.60" y2="377.00" stroke="#666" stroke-width="0.6"/>
<line x1="341.40" y1="370.00" x2="343.80" y2="370.00" stroke="#666" stroke-width="0.6"/>
<text x="324.70" y="444.86" text-anchor="middle" style="font-size:6.6px;" fill="#111" stroke="#111" stroke-width="0.17">Co</text>
<text x="339.30" y="444.86" text-anchor="middle" style="font-size:6.6px;" fill="#111" stroke="#111" stroke-width="0.17">Mel</text>
<line x1="322.00" y1="448.80" x2="343.70" y2="448.80" stroke="#111" stroke-width="1.0"/>
<g stroke="#666" stroke-width="0.6" fill="none">
<polyline points="227.5,340 227.5,332.5 343.7,332.5 343.7,340"/>
<line x1="257.5" y1="332.5" x2="257.5" y2="340"/><line x1="285.7" y1="332.5" x2="285.7" y2="340"/><line x1="315" y1="332.5" x2="315" y2="340"/>
<polyline points="221.2,350 221.2,344.5 336.2,344.5 336.2,352"/>
<line x1="250.7" y1="344.5" x2="250.7" y2="352" stroke-dasharray="2,1.2"/><line x1="278.2" y1="344.5" x2="278.2" y2="352" stroke-dasharray="2,1.2"/><line x1="307" y1="344.5" x2="307" y2="352" stroke-dasharray="2,1.2"/>
</g>
<text x="229.30" y="338.13" text-anchor="start" style="font-size:5.1px;" fill="#333" stroke="#111" stroke-width="0.17">n.s.</text>
<text x="223.00" y="349.13" text-anchor="start" style="font-size:5.1px;" fill="#333" stroke="#111" stroke-width="0.17">n.s.</text>
<text x="211.80" y="457.7" text-anchor="end" style="font-size:7.4px" fill="#111" transform="rotate(-45 211.80 455)">control</text>
<text x="222.80" y="457.7" text-anchor="end" style="font-size:7.4px" fill="#111" transform="rotate(-45 222.80 455)">medium</text>
<text x="240.55" y="457.7" text-anchor="end" style="font-size:7.4px" fill="#111" transform="rotate(-45 240.55 455)">50% HS-5</text>
<text x="251.55" y="457.7" text-anchor="end" style="font-size:7.4px" fill="#111" transform="rotate(-45 251.55 455)">medium</text>
<text x="269.30" y="457.7" text-anchor="end" style="font-size:7.4px" fill="#111" transform="rotate(-45 269.30 455)">75% HS-5</text>
<text x="280.30" y="457.7" text-anchor="end" style="font-size:7.4px" fill="#111" transform="rotate(-45 280.30 455)">medium</text>
<text x="298.05" y="457.7" text-anchor="end" style="font-size:7.4px" fill="#111" transform="rotate(-45 298.05 455)">75% HS-5/NCI</text>
<text x="309.05" y="457.7" text-anchor="end" style="font-size:7.4px" fill="#111" transform="rotate(-45 309.05 455)">medium</text>
<text x="326.80" y="457.7" text-anchor="end" style="font-size:7.4px" fill="#111" transform="rotate(-45 326.80 455)">100% HS-5/NCI</text>
<text x="337.80" y="457.7" text-anchor="end" style="font-size:7.4px" fill="#111" transform="rotate(-45 337.80 455)">medium</text>
<text x="366.20" y="318.11" text-anchor="start" style="font-size:12.6px;font-weight:bold;" fill="#000" stroke="#111" stroke-width="0.1">I</text>
<text x="415.00" y="325.88" text-anchor="middle" style="font-size:7.2px;font-weight:bold;" fill="#111" stroke="#111" stroke-width="0.1">Melphalan</text>
<text x="486.20" y="325.90" text-anchor="middle" style="font-size:7.25px;font-weight:bold;" fill="#111" stroke="#111" stroke-width="0.1">Treosulfan</text>
<text x="372.70" y="358.74" text-anchor="middle" style="font-size:7.1px;font-weight:bold;" fill="#111" stroke="#111" stroke-width="0.1" transform="rotate(-90 372.70 356.20)">ICAM-1</text>
<text x="372.70" y="411.14" text-anchor="middle" style="font-size:7.1px;font-weight:bold;" fill="#111" stroke="#111" stroke-width="0.1" transform="rotate(-90 372.70 408.60)">VCAM</text>
<rect x="383.40" y="333.90" width="62.40" height="42.60" fill="#fff" stroke="none"/>
<clipPath id="c383333"><rect x="383.40" y="333.90" width="62.40" height="42.60"/></clipPath>
<g clip-path="url(#c383333)">
<path d="M383.80,375.80 L383.80,370.35 L384.40,369.48 L385.00,371.34 L385.60,368.67 L386.20,369.90 L386.80,368.96 L387.40,366.92 L388.00,368.30 L388.60,365.93 L389.20,366.92 L389.80,364.94 L390.40,364.21 L391.00,365.23 L391.60,367.08 L392.20,363.79 L392.80,363.33 L393.40,364.88 L394.00,366.30 L394.60,364.06 L395.20,362.08 L395.80,363.79 L396.40,359.00 L397.00,361.17 L397.60,358.10 L398.20,356.02 L398.80,354.71 L399.40,354.45 L400.00,355.68 L400.60,351.77 L401.20,351.81 L401.80,350.99 L402.40,348.37 L403.00,347.51 L403.60,343.84 L404.20,341.91 L404.80,341.76 L405.40,343.55 L406.00,342.42 L406.60,342.93 L407.20,345.30 L407.80,346.15 L408.40,346.67 L409.00,350.21 L409.60,351.53 L410.20,350.72 L410.80,353.30 L411.40,354.74 L412.00,357.86 L412.60,358.93 L413.20,357.97 L413.80,362.05 L414.40,359.69 L415.00,361.62 L415.60,364.59 L416.20,363.24 L416.80,365.55 L417.40,364.81 L418.00,368.64 L418.60,370.28 L419.20,370.16 L419.80,372.06 L420.40,370.30 L421.00,372.02 L421.60,372.40 L422.20,372.84 L422.80,372.90 L423.40,374.17 L424.00,374.86 L424.60,374.43 L425.20,374.95 L425.80,374.80 L426.40,375.50 L427.00,375.62 L427.60,375.80 L428.20,375.80 L428.80,375.75 L429.40,375.80 L430.00,375.80 L430.60,375.80 L431.20,375.80 L431.80,375.80 L432.40,375.80 L433.00,375.80 L433.60,375.80 L434.20,375.80 L434.80,375.80 L435.40,375.80 L436.00,375.80 L436.60,375.80 L437.20,375.80 L437.80,375.80 L438.40,375.80 L439.00,375.80 L439.60,375.80 L440.20,375.80 L440.80,375.80 L441.40,375.80 L442.00,375.80 L442.60,375.80 L443.20,375.80 L443.80,375.80 L444.40,375.80 L445.00,375.80 L445.40,375.80 Z" fill="#b8b8b8" stroke="#b8b8b8" stroke-width="0.6" stroke-linejoin="round"/>
<path d="M383.80,370.25 L384.30,370.45 L384.80,368.30 L385.30,366.07 L385.80,367.71 L386.30,367.44 L386.80,368.15 L387.30,370.16 L387.80,368.69 L388.30,367.03 L388.80,366.93 L389.30,366.97 L389.80,363.16 L390.30,367.03 L390.80,366.88 L391.30,367.15 L391.80,366.46 L392.30,363.36 L392.80,362.21 L393.30,359.72 L393.80,361.72 L394.30,358.27 L394.80,356.97 L395.30,356.88 L395.80,355.95 L396.30,356.15 L396.80,353.90 L397.30,352.36 L397.80,351.97 L398.30,350.68 L398.80,351.01 L399.30,348.21 L399.80,351.62 L400.30,349.81 L400.80,345.79 L401.30,344.60 L401.80,343.94 L402.30,343.04 L402.80,341.19 L403.30,344.61 L403.80,345.72 L404.30,343.91 L404.80,344.47 L405.30,343.09 L405.80,343.78 L406.30,346.20 L406.80,347.13 L407.30,351.45 L407.80,349.36 L408.30,349.11 L408.80,355.37 L409.30,355.14 L409.80,353.86 L410.30,356.85 L410.80,355.34 L411.30,358.70 L411.80,362.77 L412.30,363.72 L412.80,363.75 L413.30,362.05 L413.80,363.11 L414.30,362.98 L414.80,367.23 L415.30,367.51 L415.80,369.78 L416.30,368.10 L416.80,367.51 L417.30,371.19 L417.80,373.32 L418.30,373.23 L418.80,373.22 L419.30,373.52 L419.80,373.53 L420.30,371.96 L420.80,372.94 L421.30,372.97 L421.80,372.53 L422.30,372.90 L422.80,373.86 L423.30,374.40 L423.80,375.33 L424.30,375.80 L424.80,375.54 L425.30,375.80 L425.80,375.80 L426.30,375.80 L426.80,375.80 L427.30,375.77 L427.80,375.80 L428.30,375.80 L428.80,375.80 L429.30,375.80 L429.80,375.80 L430.30,375.80 L430.80,375.80 L431.30,375.80 L431.80,375.80 L432.30,375.80 L432.80,375.80 L433.30,375.80 L433.80,375.80 L434.30,375.80 L434.80,375.80 L435.30,375.80 L435.80,375.80 L436.30,375.80 L436.80,375.80 L437.30,375.80 L437.80,375.80 L438.30,375.80 L438.80,375.80 L439.30,375.80 L439.80,375.80 L440.30,375.80 L440.80,375.80 L441.30,375.80 L441.80,375.80 L442.30,375.80 L442.80,375.80 L443.30,375.80 L443.80,375.80 L444.30,375.80 L444.80,375.80 L445.30,375.80" fill="none" stroke="#111" stroke-width="0.9" stroke-linejoin="round"/>
</g>
<rect x="383.40" y="333.90" width="62.40" height="42.60" fill="none" stroke="#222" stroke-width="0.8"/>
<text x="443.40" y="341.28" text-anchor="end" style="font-size:7.2px;" fill="#111" stroke="#111" stroke-width="0.17">HS-5</text>
<rect x="455.20" y="333.90" width="61.40" height="42.60" fill="#fff" stroke="none"/>
<clipPath id="c455333"><rect x="455.20" y="333.90" width="61.40" height="42.60"/></clipPath>
<g clip-path="url(#c455333)">
<path d="M455.60,375.80 L455.60,369.06 L456.20,372.63 L456.80,372.01 L457.40,371.20 L458.00,372.59 L458.60,370.27 L459.20,371.62 L459.80,371.38 L460.40,368.09 L461.00,367.34 L461.60,367.20 L462.20,366.73 L462.80,368.10 L463.40,366.62 L464.00,366.89 L464.60,365.37 L465.20,368.60 L465.80,366.03 L466.40,365.53 L467.00,365.55 L467.60,366.62 L468.20,363.86 L468.80,364.95 L469.40,362.45 L470.00,361.37 L470.60,360.38 L471.20,356.80 L471.80,357.20 L472.40,355.13 L473.00,352.95 L473.60,355.56 L474.20,352.37 L474.80,352.46 L475.40,352.96 L476.00,351.51 L476.60,349.19 L477.20,348.75 L477.80,347.95 L478.40,350.01 L479.00,347.96 L479.60,350.51 L480.20,350.37 L480.80,351.41 L481.40,354.90 L482.00,355.25 L482.60,356.49 L483.20,358.65 L483.80,360.78 L484.40,359.91 L485.00,361.51 L485.60,362.27 L486.20,363.42 L486.80,365.48 L487.40,365.69 L488.00,367.08 L488.60,367.78 L489.20,370.86 L489.80,371.04 L490.40,372.56 L491.00,373.45 L491.60,371.33 L492.20,372.35 L492.80,374.01 L493.40,374.30 L494.00,373.15 L494.60,373.41 L495.20,374.24 L495.80,374.14 L496.40,374.57 L497.00,374.75 L497.60,375.46 L498.20,375.80 L498.80,375.80 L499.40,375.80 L500.00,375.80 L500.60,375.80 L501.20,375.80 L501.80,375.80 L502.40,375.80 L503.00,375.80 L503.60,375.80 L504.20,375.80 L504.80,375.80 L505.40,375.80 L506.00,375.80 L506.60,375.80 L507.20,375.80 L507.80,375.80 L508.40,375.80 L509.00,375.80 L509.60,375.80 L510.20,375.80 L510.80,375.80 L511.40,375.80 L512.00,375.80 L512.60,375.80 L513.20,375.80 L513.80,375.80 L514.40,375.80 L515.00,375.80 L515.60,375.80 L516.20,375.80 Z" fill="#b8b8b8" stroke="#b8b8b8" stroke-width="0.6" stroke-linejoin="round"/>
<path d="M455.60,372.26 L456.10,373.38 L456.60,368.43 L457.10,368.13 L457.60,366.53 L458.10,370.22 L458.60,367.79 L459.10,366.27 L459.60,367.51 L460.10,370.41 L460.60,370.30 L461.10,366.89 L461.60,365.42 L462.10,369.40 L462.60,368.03 L463.10,368.32 L463.60,364.41 L464.10,363.04 L464.60,366.00 L465.10,364.68 L465.60,361.98 L466.10,365.86 L466.60,364.27 L467.10,364.31 L467.60,359.59 L468.10,362.49 L468.60,357.86 L469.10,360.74 L469.60,358.20 L470.10,356.27 L470.60,356.35 L471.10,357.76 L471.60,353.67 L472.10,351.46 L472.60,352.71 L473.10,350.69 L473.60,348.95 L474.10,348.21 L474.60,346.66 L475.10,346.48 L475.60,346.33 L476.10,346.84 L476.60,350.29 L477.10,348.93 L477.60,350.51 L478.10,349.69 L478.60,351.27 L479.10,350.45 L479.60,352.39 L480.10,352.18 L480.60,357.04 L481.10,357.77 L481.60,356.63 L482.10,358.85 L482.60,362.74 L483.10,359.55 L483.60,363.81 L484.10,363.24 L484.60,364.29 L485.10,367.25 L485.60,366.10 L486.10,367.25 L486.60,369.09 L487.10,371.75 L487.60,369.20 L488.10,372.11 L488.60,372.43 L489.10,372.36 L489.60,371.62 L490.10,371.61 L490.60,370.96 L491.10,371.56 L491.60,371.98 L492.10,374.11 L492.60,373.82 L493.10,373.81 L493.60,373.90 L494.10,375.18 L494.60,375.57 L495.10,375.54 L495.60,375.36 L496.10,375.50 L496.60,375.76 L497.10,375.80 L497.60,375.80 L498.10,375.80 L498.60,375.80 L499.10,375.80 L499.60,375.80 L500.10,375.80 L500.60,375.80 L501.10,375.80 L501.60,375.80 L502.10,375.80 L502.60,375.80 L503.10,375.80 L503.60,375.80 L504.10,375.80 L504.60,375.80 L505.10,375.80 L505.60,375.80 L506.10,375.80 L506.60,375.80 L507.10,375.80 L507.60,375.80 L508.10,375.80 L508.60,375.80 L509.10,375.80 L509.60,375.80 L510.10,375.80 L510.60,375.80 L511.10,375.80 L511.60,375.80 L512.10,375.80 L512.60,375.80 L513.10,375.80 L513.60,375.80 L514.10,375.80 L514.60,375.80 L515.10,375.80 L515.60,375.80 L516.10,375.80" fill="none" stroke="#111" stroke-width="0.9" stroke-linejoin="round"/>
</g>
<rect x="455.20" y="333.90" width="61.40" height="42.60" fill="none" stroke="#222" stroke-width="0.8"/>
<text x="514.20" y="341.28" text-anchor="end" style="font-size:7.2px;" fill="#111" stroke="#111" stroke-width="0.17">HS-5</text>
<rect x="383.40" y="387.00" width="62.40" height="42.80" fill="#fff" stroke="none"/>
<clipPath id="c383387"><rect x="383.40" y="387.00" width="62.40" height="42.80"/></clipPath>
<g clip-path="url(#c383387)">
<path d="M383.80,429.10 L383.80,429.10 L384.40,429.10 L385.00,429.10 L385.60,429.10 L386.20,429.10 L386.80,429.10 L387.40,429.10 L388.00,429.10 L388.60,429.10 L389.20,429.10 L389.80,429.10 L390.40,429.10 L391.00,429.10 L391.60,429.10 L392.20,429.10 L392.80,429.08 L393.40,429.07 L394.00,429.10 L394.60,429.05 L395.20,429.10 L395.80,429.10 L396.40,429.10 L397.00,429.10 L397.60,429.10 L398.20,429.04 L398.80,428.59 L399.40,428.86 L400.00,428.78 L400.60,428.44 L401.20,428.28 L401.80,428.27 L402.40,427.09 L403.00,427.61 L403.60,426.44 L404.20,425.36 L404.80,425.22 L405.40,426.24 L406.00,424.33 L406.60,425.17 L407.20,425.90 L407.80,423.01 L408.40,421.18 L409.00,420.37 L409.60,420.20 L410.20,419.61 L410.80,417.81 L411.40,416.58 L412.00,412.36 L412.60,410.66 L413.20,409.63 L413.80,410.57 L414.40,407.57 L415.00,407.19 L415.60,403.39 L416.20,401.81 L416.80,401.67 L417.40,403.95 L418.00,405.30 L418.60,407.32 L419.20,407.48 L419.80,410.06 L420.40,411.75 L421.00,413.54 L421.60,413.67 L422.20,418.74 L422.80,417.29 L423.40,421.69 L424.00,423.33 L424.60,420.21 L425.20,422.37 L425.80,425.10 L426.40,426.68 L427.00,425.54 L427.60,425.35 L428.20,425.45 L428.80,427.54 L429.40,426.63 L430.00,427.46 L430.60,427.26 L431.20,428.05 L431.80,428.81 L432.40,428.33 L433.00,428.89 L433.60,428.91 L434.20,429.10 L434.80,429.10 L435.40,429.10 L436.00,429.10 L436.60,429.10 L437.20,429.10 L437.80,429.10 L438.40,429.10 L439.00,429.10 L439.60,429.10 L440.20,429.10 L440.80,429.10 L441.40,429.10 L442.00,429.10 L442.60,429.10 L443.20,429.10 L443.80,429.10 L444.40,429.10 L445.00,429.10 L445.40,429.10 Z" fill="#b8b8b8" stroke="#b8b8b8" stroke-width="0.6" stroke-linejoin="round"/>
<path d="M383.80,429.10 L384.30,429.10 L384.80,429.10 L385.30,429.10 L385.80,429.10 L386.30,429.10 L386.80,429.10 L387.30,429.10 L387.80,429.10 L388.30,429.10 L388.80,429.10 L389.30,429.10 L389.80,429.10 L390.30,429.10 L390.80,429.10 L391.30,429.10 L391.80,429.10 L392.30,429.10 L392.80,429.06 L393.30,429.10 L393.80,429.10 L394.30,429.10 L394.80,429.10 L395.30,429.10 L395.80,429.10 L396.30,429.10 L396.80,428.93 L397.30,428.91 L397.80,428.18 L398.30,428.62 L398.80,428.28 L399.30,428.51 L399.80,428.32 L400.30,427.38 L400.80,426.35 L401.30,427.88 L401.80,425.84 L402.30,426.11 L402.80,425.45 L403.30,424.84 L403.80,426.16 L404.30,427.06 L404.80,423.07 L405.30,423.88 L405.80,421.40 L406.30,421.78 L406.80,420.18 L407.30,417.73 L407.80,416.41 L408.30,415.61 L408.80,418.67 L409.30,416.08 L409.80,412.93 L410.30,415.25 L410.80,415.24 L411.30,411.08 L411.80,407.47 L412.30,406.16 L412.80,404.44 L413.30,404.67 L413.80,402.39 L414.30,401.90 L414.80,401.52 L415.30,403.49 L415.80,406.18 L416.30,407.49 L416.80,407.15 L417.30,408.42 L417.80,410.47 L418.30,411.24 L418.80,412.37 L419.30,412.20 L419.80,414.61 L420.30,419.96 L420.80,416.94 L421.30,419.31 L421.80,421.31 L422.30,423.85 L422.80,421.35 L423.30,421.64 L423.80,422.15 L424.30,423.66 L424.80,424.75 L425.30,427.36 L425.80,427.61 L426.30,427.86 L426.80,425.73 L427.30,425.70 L427.80,427.53 L428.30,428.42 L428.80,428.06 L429.30,428.38 L429.80,427.88 L430.30,428.33 L430.80,429.01 L431.30,429.10 L431.80,429.10 L432.30,429.10 L432.80,429.10 L433.30,429.10 L433.80,429.10 L434.30,429.10 L434.80,429.10 L435.30,429.10 L435.80,429.10 L436.30,429.10 L436.80,429.10 L437.30,429.10 L437.80,429.10 L438.30,429.10 L438.80,429.10 L439.30,429.10 L439.80,429.10 L440.30,429.10 L440.80,429.10 L441.30,429.10 L441.80,429.10 L442.30,429.10 L442.80,429.10 L443.30,429.10 L443.80,429.10 L444.30,429.10 L444.80,429.10 L445.30,429.10" fill="none" stroke="#111" stroke-width="0.9" stroke-linejoin="round"/>
</g>
<rect x="383.40" y="387.00" width="62.40" height="42.80" fill="none" stroke="#222" stroke-width="0.8"/>
<text x="443.40" y="394.38" text-anchor="end" style="font-size:7.2px;" fill="#111" stroke="#111" stroke-width="0.17">HS-5</text>
<rect x="455.20" y="387.00" width="61.40" height="42.80" fill="#fff" stroke="none"/>
<clipPath id="c455387"><rect x="455.20" y="387.00" width="61.40" height="42.80"/></clipPath>
<g clip-path="url(#c455387)">
<path d="M455.60,429.10 L455.60,429.10 L456.20,429.10 L456.80,429.10 L457.40,429.10 L458.00,429.10 L458.60,429.10 L459.20,429.10 L459.80,429.10 L460.40,429.10 L461.00,429.10 L461.60,429.10 L462.20,429.10 L462.80,429.10 L463.40,429.07 L464.00,428.91 L464.60,429.04 L465.20,429.10 L465.80,429.01 L466.40,428.89 L467.00,429.04 L467.60,429.10 L468.20,428.84 L468.80,428.65 L469.40,428.75 L470.00,428.80 L470.60,428.93 L471.20,428.37 L471.80,428.60 L472.40,428.44 L473.00,427.94 L473.60,427.19 L474.20,428.12 L474.80,426.82 L475.40,427.27 L476.00,425.39 L476.60,424.46 L477.20,425.73 L477.80,423.76 L478.40,425.84 L479.00,423.36 L479.60,420.37 L480.20,418.98 L480.80,418.67 L481.40,418.77 L482.00,418.67 L482.60,413.41 L483.20,412.15 L483.80,409.64 L484.40,411.16 L485.00,405.77 L485.60,402.58 L486.20,400.30 L486.80,399.76 L487.40,400.40 L488.00,398.78 L488.60,396.05 L489.20,396.53 L489.80,396.89 L490.40,395.93 L491.00,397.06 L491.60,402.89 L492.20,405.20 L492.80,404.27 L493.40,409.16 L494.00,410.10 L494.60,411.70 L495.20,413.26 L495.80,414.23 L496.40,414.80 L497.00,417.13 L497.60,418.90 L498.20,423.12 L498.80,420.93 L499.40,424.91 L500.00,422.55 L500.60,423.34 L501.20,425.84 L501.80,426.66 L502.40,426.03 L503.00,425.40 L503.60,426.54 L504.20,426.84 L504.80,428.11 L505.40,427.47 L506.00,427.88 L506.60,428.74 L507.20,428.35 L507.80,428.64 L508.40,429.03 L509.00,429.10 L509.60,428.98 L510.20,429.09 L510.80,429.10 L511.40,429.10 L512.00,429.10 L512.60,429.10 L513.20,429.10 L513.80,429.10 L514.40,429.10 L515.00,429.10 L515.60,429.10 L516.20,429.10 Z" fill="#b8b8b8" stroke="#b8b8b8" stroke-width="0.6" stroke-linejoin="round"/>
<path d="M455.60,429.10 L456.10,429.10 L456.60,429.10 L457.10,429.10 L457.60,429.10 L458.10,429.10 L458.60,429.10 L459.10,429.10 L459.60,429.10 L460.10,429.02 L460.60,429.01 L461.10,429.09 L461.60,429.10 L462.10,429.10 L462.60,429.07 L463.10,428.93 L463.60,428.97 L464.10,429.00 L464.60,429.10 L465.10,428.84 L465.60,429.10 L466.10,429.10 L466.60,429.10 L467.10,429.10 L467.60,429.00 L468.10,428.77 L468.60,428.64 L469.10,428.43 L469.60,428.68 L470.10,427.69 L470.60,427.43 L471.10,428.11 L471.60,427.17 L472.10,426.39 L472.60,425.85 L473.10,426.59 L473.60,425.70 L474.10,427.45 L474.60,427.27 L475.10,427.50 L475.60,423.91 L476.10,421.80 L476.60,420.81 L477.10,422.03 L477.60,422.69 L478.10,420.51 L478.60,418.05 L479.10,417.81 L479.60,417.79 L480.10,416.92 L480.60,416.01 L481.10,415.23 L481.60,412.87 L482.10,408.00 L482.60,409.73 L483.10,405.52 L483.60,404.86 L484.10,402.21 L484.60,402.38 L485.10,397.91 L485.60,395.89 L486.10,394.08 L486.60,391.78 L487.10,395.57 L487.60,395.01 L488.10,394.59 L488.60,396.66 L489.10,402.11 L489.60,402.11 L490.10,402.23 L490.60,407.27 L491.10,409.09 L491.60,412.77 L492.10,409.53 L492.60,412.23 L493.10,415.95 L493.60,418.02 L494.10,419.99 L494.60,416.06 L495.10,417.53 L495.60,417.62 L496.10,418.85 L496.60,424.41 L497.10,423.70 L497.60,425.93 L498.10,423.58 L498.60,426.10 L499.10,424.89 L499.60,424.29 L500.10,426.59 L500.60,427.85 L501.10,425.80 L501.60,426.96 L502.10,427.44 L502.60,426.88 L503.10,427.33 L503.60,427.31 L504.10,427.69 L504.60,428.11 L505.10,428.66 L505.60,428.87 L506.10,428.65 L506.60,428.60 L507.10,428.88 L507.60,429.10 L508.10,429.10 L508.60,429.10 L509.10,429.10 L509.60,429.10 L510.10,429.10 L510.60,429.10 L511.10,429.10 L511.60,429.10 L512.10,429.10 L512.60,429.10 L513.10,429.10 L513.60,429.10 L514.10,429.10 L514.60,429.10 L515.10,429.10 L515.60,429.10 L516.10,429.10" fill="none" stroke="#111" stroke-width="0.9" stroke-linejoin="round"/>
</g>
<rect x="455.20" y="387.00" width="61.40" height="42.80" fill="none" stroke="#222" stroke-width="0.8"/>
<text x="514.20" y="394.38" text-anchor="end" style="font-size:7.2px;" fill="#111" stroke="#111" stroke-width="0.17">HS-5</text>
<line x1="383.40" y1="435.60" x2="514.50" y2="435.60" stroke="#222" stroke-width="0.7"/>
<path d="M516.8,435.6 L513,434.1 L513,437.1 Z" fill="#222"/>
<text x="448.70" y="443.98" text-anchor="middle" style="font-size:7.2px;font-weight:bold;" fill="#111" stroke="#111" stroke-width="0.1">Fluorescence (log)</text>
</svg>
</body></html>
